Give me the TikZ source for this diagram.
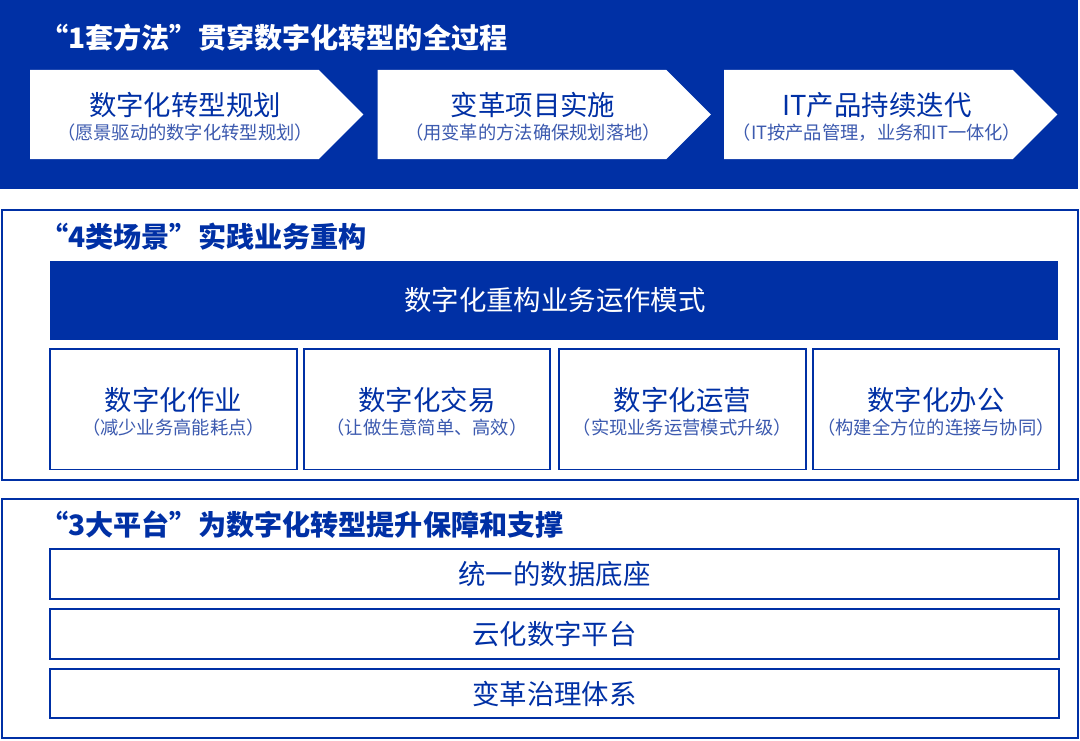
\documentclass[tikz,border=0pt]{standalone}
\usepackage{fontspec}
\setmainfont{Noto Sans CJK SC}
\usepackage{tikz}
\usetikzlibrary{shapes,arrows,positioning}
\definecolor{hwblue}{RGB}{0,48,165}
\definecolor{subblue}{RGB}{60,90,175}

\tikzset{
	chev/.style={shape=signal, signal to=east, signal pointer angle=90, fill=white, inner sep=0pt, outer sep=0pt, minimum width=8.325cm, minimum height=2.225cm},
	headtext/.style={anchor=west, inner sep=0pt, font=\fontsize{20pt}{24pt}\selectfont\bfseries},
	maintext/.style={inner sep=0pt, text=hwblue, font=\fontsize{19.5pt}{23pt}\selectfont},
	subtext/.style={inner sep=0pt, text=subblue, font=\fontsize{13pt}{16pt}\selectfont},
	scenebox/.style={draw=hwblue, line width=1.4pt, fill=white, inner sep=0pt, minimum width=6.15cm, minimum height=3.0cm},
	platbox/.style={draw=hwblue, line width=1.4pt, inner sep=0pt, minimum width=25.2cm, minimum height=1.23cm, text=hwblue, font=\fontsize{19.5pt}{23pt}\selectfont}
}

\begin{document}
\begin{tikzpicture}[x=0.025cm, y=-0.025cm]
				\useasboundingbox (0,0) rectangle (1080,741);
				% method band
				\fill [hwblue] (0,0) rectangle (1078,189);
				\node [headtext, text=white] (head1) at (40,38) {“1套方法”贯穿数字化转型的全过程};
				\node [chev] (plan) at (174.5,114.5) {};
				\node [chev] (change) at (522,114.5) {};
				\node [chev] (itprod) at (868.5,114.5) {};
				\node [maintext] (planm) at (185,105) {数字化转型规划};
				\node [subtext] (plans) at (185,133) {（愿景驱动的数字化转型规划）};
				\node [maintext] (changem) at (533,105) {变革项目实施};
				\node [subtext] (changes) at (533,133) {（用变革的方法确保规划落地）};
				\node [maintext] (itprodm) at (877,105) {IT产品持续迭代};
				\node [subtext] (itprods) at (877,133) {（IT按产品管理，业务和IT一体化）};

				% scenes
				\draw [hwblue, line width=1.4pt] (2,210) rectangle (1078,480);
				\node [headtext, text=hwblue] (head2) at (40,237) {“4类场景”实践业务重构};
				\node [fill=hwblue, inner sep=0pt, minimum width=25.2cm, minimum height=1.975cm] (bar) at (554,300.5) {};
				\node [maintext, text=white] (barm) at (555,300) {数字化重构业务运作模式};
				\node [scenebox] (work) at (173.5,409.5) {};
				\node [scenebox] (trade) at (427,409.5) {};
				\node [scenebox] (oper) at (682.5,409.5) {};
				\node [scenebox] (office) at (936,409.5) {};
				\node [maintext] (workm) at (173.5,400) {数字化作业};
				\node [subtext] (works) at (173.5,428) {（减少业务高能耗点）};
				\node [maintext] (tradem) at (427,400) {数字化交易};
				\node [subtext] (trades) at (427,428) {（让做生意简单、高效）};
				\node [maintext] (operm) at (682.5,400) {数字化运营};
				\node [subtext] (opers) at (682.5,428) {（实现业务运营模式升级）};
				\node [maintext] (officem) at (936,400) {数字化办公};
				\node [subtext] (offices) at (936,428) {（构建全方位的连接与协同）};

				% platforms
				\draw [hwblue, line width=1.4pt] (2,499) rectangle (1078,738);
				\node [headtext, text=hwblue] (head3) at (40,525) {“3大平台”为数字化转型提升保障和支撑};
				\node [platbox] (data) at (554.5,574) {统一的数据底座};
				\node [platbox] (cloud) at (554.5,634) {云化数字平台};
				\node [platbox] (govern) at (554.5,693.5) {变革治理体系};
\end{tikzpicture}
\end{document}
